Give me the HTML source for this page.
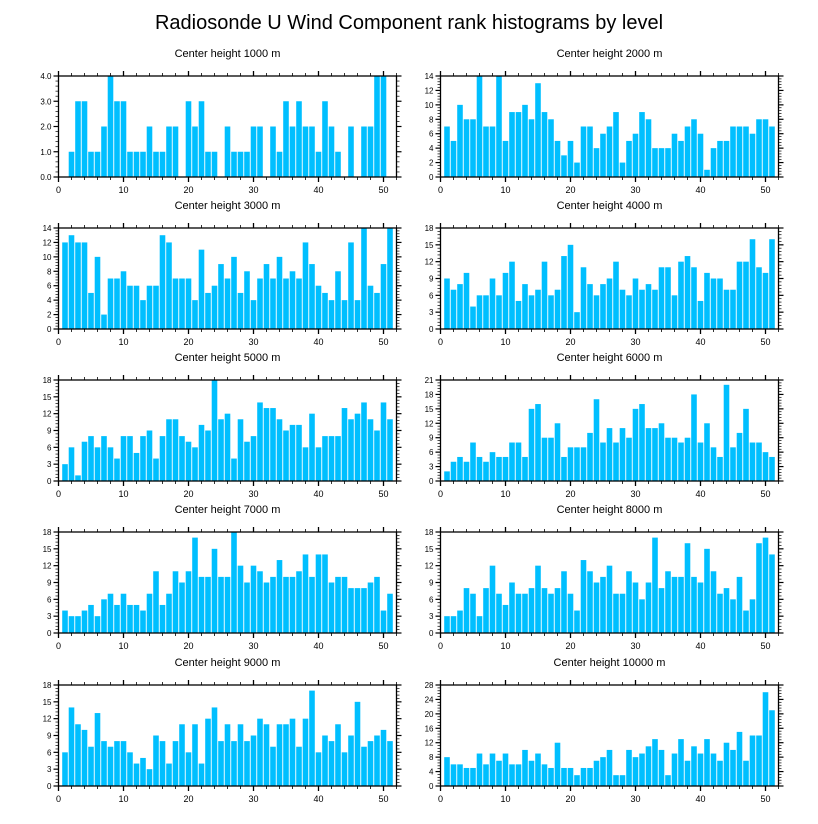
<!DOCTYPE html>
<html><head><meta charset="utf-8"><style>
html,body{margin:0;padding:0;background:#fff;}
svg{display:block;font-family:"Liberation Sans",sans-serif;}
</style></head><body>
<svg id="chart" width="818" height="824" viewBox="0 0 818 824" xmlns="http://www.w3.org/2000/svg">
<text x="409" y="29" font-size="20" text-anchor="middle" fill="#000">Radiosonde U Wind Component rank histograms by level</text>
</svg>
<script>
const levels = ["1000","2000","3000","4000","5000","6000","7000","8000","9000","10000"];
const h1000 = [0,1,3,3,1,1,2,4,3,3,1,1,1,2,1,1,2,2,0,3,2,3,1,1,0,2,1,1,1,2,2,0,2,1,3,2,3,2,2,1,3,2,1,0,2,0,2,2,4,4,0];
const h2000 = [7,5,10,8,8,14,7,7,14,5,9,9,10,8,13,9,8,5,3,5,2,7,7,4,6,7,9,2,5,6,9,8,4,4,4,6,5,7,8,6,1,4,5,5,7,7,7,6,8,8,7];
const h3000 = [12,13,12,12,5,10,2,7,7,8,6,6,4,6,6,13,12,7,7,7,4,11,5,6,9,7,10,5,8,4,7,9,7,10,7,8,7,12,9,6,5,4,8,4,12,4,14,6,5,9,14];
const h4000 = [9,7,8,10,4,6,6,9,6,10,12,5,8,6,7,12,6,7,13,15,3,11,8,6,8,9,12,7,6,9,7,8,7,11,11,6,12,13,11,5,10,9,9,7,7,12,12,16,11,10,16];
const h5000 = [3,6,1,7,8,6,8,6,4,8,8,5,8,9,4,8,11,11,8,7,6,10,9,18,11,12,4,11,7,8,14,13,13,11,9,10,10,6,12,6,8,8,8,13,11,12,14,11,9,14,11];
const h6000 = [2,4,5,4,8,5,4,6,5,5,8,8,5,15,16,9,9,12,5,7,7,7,10,17,8,11,8,11,9,15,16,11,11,12,9,9,8,9,18,8,12,7,5,20,7,10,15,8,8,6,5];
const h7000 = [4,3,3,4,5,3,6,7,5,7,5,5,4,7,11,5,7,11,9,11,17,10,10,15,10,10,18,12,9,12,11,9,10,13,10,10,11,14,10,14,14,9,10,10,8,8,8,9,10,4,7];
const h8000 = [3,3,4,8,7,3,8,12,7,5,9,7,7,8,12,8,7,8,11,7,4,13,11,9,10,12,7,7,11,9,6,9,17,8,11,10,10,16,10,9,15,11,7,8,6,10,4,6,16,17,14];
const h9000 = [6,14,11,10,7,13,8,7,8,8,6,4,5,3,9,8,4,8,11,6,11,4,12,14,8,11,8,11,8,9,12,11,7,11,11,12,7,12,17,6,9,8,11,6,9,15,7,8,9,10,8];
const h10000 = [8,6,6,5,5,9,6,9,7,9,6,6,10,7,9,6,5,12,5,5,3,5,5,7,8,10,3,3,10,8,9,11,13,10,3,9,13,7,11,9,13,9,7,12,10,15,7,14,14,26,21];
const yMaxes = [4,14,14,18,18,21,18,18,18,28];
const ySteps = [1,2,2,3,3,3,3,3,3,4];
const xTicks = [0,10,20,30,40,50];
const series = [h1000,h2000,h3000,h4000,h5000,h6000,h7000,h8000,h9000,h10000];

const NS = "http://www.w3.org/2000/svg";
const svg = document.getElementById('chart');
function mk(tag, attrs, parent){const e=document.createElementNS(NS,tag);for(const k in attrs)e.setAttribute(k,attrs[k]);parent.appendChild(e);return e;}

const colX = [58.5, 440.5];
const rowY = [76, 228, 380, 532, 685];
const W = 338, H = 101, XMAX = 52;

series.forEach((vals, p) => {
  const x0 = colX[p % 2], y0 = rowY[Math.floor(p / 2)];
  const ymax = yMaxes[p], step = ySteps[p];
  const sx = v => x0 + v / XMAX * W;
  const sy = v => y0 + H - v / ymax * H;
  const g = mk('g', {}, svg);
  
  
  const t = mk('text', {x: x0 + W/2, y: y0 - 19, 'font-size': 11, 'text-anchor': 'middle', fill: '#000'}, g);
  t.textContent = 'Center height ' + levels[p] + ' m';
  
  
  vals.forEach((v, i) => {
    const c = i + 1;
    const r = mk('rect', {x: sx(c - 0.43), y: sy(v), width: sx(0.86) - x0, height: sy(0) - sy(v), fill: '#00BFFF'}, g);
    
    
  });
  const frame = mk('rect', {x: x0, y: y0, width: W, height: H, fill: 'none', stroke: '#000', 'stroke-width': 1.3}, g);
  
  
  // x ticks
  for (let v = 0; v <= XMAX; v += 2) {
    const major = v % 10 === 0;
    const L = major ? 5 : 3;
    mk('line', {x1: sx(v), x2: sx(v), y1: y0 + H, y2: y0 + H + L, stroke: '#000', 'stroke-width': major ? 1.3 : 0.8}, g);
    mk('line', {x1: sx(v), x2: sx(v), y1: y0, y2: y0 - L, stroke: '#000', 'stroke-width': major ? 1.3 : 0.8}, g);
  }
  xTicks.forEach(v => {
    const tl = mk('text', {x: sx(v), y: y0 + H + 16, 'font-size': 9, 'text-anchor': 'middle', fill: '#000'}, g);
    tl.textContent = v;
    
    
  });
  // y ticks
  const minor = step / 5;
  for (let k = 0; k * minor <= ymax + 1e-9; k++) {
    const v = k * minor;
    const major = k % 5 === 0;
    const L = major ? 5 : 3;
    mk('line', {x1: x0, x2: x0 - L, y1: sy(v), y2: sy(v), stroke: '#000', 'stroke-width': major ? 1.2 : 0.7}, g);
    mk('line', {x1: x0 + W, x2: x0 + W + L, y1: sy(v), y2: sy(v), stroke: '#000', 'stroke-width': major ? 1.2 : 0.7}, g);
  }
  for (let v = 0; v <= ymax + 1e-9; v += step) {
    const yl = mk('text', {x: x0 - 7, y: sy(v) + 3, 'font-size': 8, 'text-anchor': 'end', fill: '#000'}, g);
    yl.textContent = p === 0 ? v.toFixed(1) : v;
    
    
  }
});
</script>
</body></html>
